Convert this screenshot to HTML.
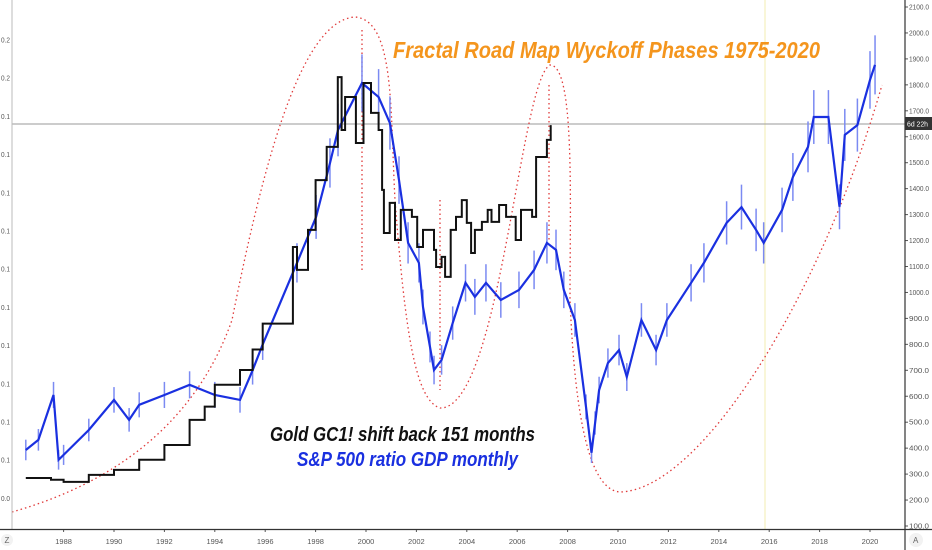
<!DOCTYPE html>
<html><head><meta charset="utf-8"><style>
body{margin:0;background:#fff;}
svg{display:block;font-family:"Liberation Sans",sans-serif;}
</style></head><body>
<svg width="932" height="550" viewBox="0 0 932 550">
<defs><clipPath id="pc"><rect x="12" y="0" width="893" height="529"/></clipPath></defs>
<rect width="932" height="550" fill="#fff"/>
<line x1="765" y1="0" x2="765" y2="529" stroke="#f3eeb0" stroke-width="1"/>
<line x1="12" y1="124" x2="905" y2="124" stroke="#9a9a9a" stroke-width="1"/>
<g id="annot" fill="none" stroke="#e03a3a" stroke-width="1.3" stroke-dasharray="1.5,3">
<path d="M12,512 C90,490 190,440 232,320 C262,170 300,20 355,17 C395,20 390,110 395,200 C405,330 415,400 440,408 C500,410 520,80 550,65 C575,65 570,200 570,300 C575,420 590,490 620,492 C700,490 820,300 882,85"/>
<path d="M362,30 L362,270"/>
<path d="M440,200 L440,390"/>
<path d="M549,85 L549,240"/>
</g>
<g id="series" clip-path="url(#pc)"></g>
<g id="axes"></g>
<text x="393" y="58" fill="#f4951d" font-size="23" font-weight="bold" font-style="italic" textLength="427" lengthAdjust="spacingAndGlyphs">Fractal Road Map Wyckoff Phases  1975-2020</text>
<text x="270" y="441" fill="#111" font-size="20" font-weight="bold" font-style="italic" textLength="265" lengthAdjust="spacingAndGlyphs">Gold GC1! shift back 151 months</text>
<text x="297" y="466" fill="#1a30e0" font-size="20" font-weight="bold" font-style="italic" textLength="221" lengthAdjust="spacingAndGlyphs">S&amp;P 500 ratio GDP monthly</text>
<line x1="905" y1="0" x2="905" y2="550" stroke="#333" stroke-width="1.2"/>
<line x1="12" y1="0" x2="12" y2="530" stroke="#bbb" stroke-width="1"/>
<line x1="0" y1="529.5" x2="932" y2="529.5" stroke="#333" stroke-width="1.2"/>
<rect x="905" y="117" width="27" height="13" fill="#333"/>
<text x="907" y="126.5" fill="#fff" font-size="7.5" textLength="21" lengthAdjust="spacingAndGlyphs">6d 22h</text>
<circle cx="7" cy="540" r="6" fill="#f2f2f2"/>
<text x="4.5" y="543" font-size="8" fill="#666">Z</text>
<circle cx="916" cy="540" r="7" fill="#f2f2f2"/>
<text x="913" y="543" font-size="8" fill="#666">A</text>
</svg>
<script>
const ns="http://www.w3.org/2000/svg";
const yearTicks=[1988,1990,1992,1994,1996,1998,2000,2002,2004,2006,2008,2010,2012,2014,2016,2018,2020];
const priceTicks=[100,200,300,400,500,600,700,800,900,1000,1100,1200,1300,1400,1500,1600,1700,1800,1900,2000,2100];
const leftTickLabels=["0.2","0.2","0.1","0.1","0.1","0.1","0.1","0.1","0.1","0.1","0.1","0.1","0.0"];
const spDates=[1986.5,1987,1987.6,1987.8,1988,1989,1990,1990.6,1991,1992,1993,1994,1995,1995.5,1995.9,1997.26,1998.02,1998.57,1998.89,1999.84,2000.5,2000.95,2001.31,2001.67,2002.1,2002.26,2002.54,2002.7,2003.0,2003.44,2003.95,2004.32,2004.76,2005.35,2006.07,2006.67,2007.18,2007.54,2007.85,2008.29,2008.73,2008.95,2009.09,2009.25,2009.6,2010.04,2010.35,2010.93,2011.51,2011.94,2012.9,2013.41,2014.31,2014.9,2015.48,2015.78,2016.51,2016.94,2017.54,2017.77,2018.35,2018.79,2019.0,2019.5,2020.0,2020.2];
const spValues=[393,432,605,355,374,470,586,509,567,605,644,605,586,700,800,1114,1291,1499,1626,1807,1753,1653,1433,1191,1114,944,790,701,740,882,1037,983,1037,971,1010,1087,1191,1164,1010,894,559,382,497,624,728,778,674,894,778,894,1037,1114,1268,1329,1241,1191,1318,1445,1561,1676,1676,1330,1607,1645,1819,1877];
const goldDates=[1986.5,1987.5,1988,1989,1990,1991,1992,1993,1993.6,1994,1995,1995.5,1995.9,1997.1,1997.26,1997.7,1998.0,1998.44,1998.88,1999.03,1999.17,1999.6,1999.9,2000.2,2000.5,2000.64,2000.71,2000.94,2001.15,2001.38,2001.82,2002.03,2002.26,2002.7,2002.78,2003.0,2003.14,2003.36,2003.57,2003.8,2004.0,2004.17,2004.32,2004.6,2004.83,2004.98,2005.28,2005.56,2005.94,2006.15,2006.59,2006.75,2007.02,2007.18,2007.33];
const goldValues=[285,278,270,297,316,355,412,509,560,644,701,780,880,1175,1087,1241,1433,1561,1830,1626,1753,1576,1807,1692,1626,1395,1229,1345,1202,1318,1291,1175,1241,1164,1098,1137,1060,1241,1291,1356,1268,1152,1241,1272,1318,1272,1337,1291,1202,1318,1291,1522,1522,1588,1645];
const xS=d=>366+(d-2000)*25.2;
const yS=v=>7+(2100-v)*25.95/100;
const ser=document.getElementById('series'),ax=document.getElementById('axes');
function mk(tag,attrs,parent){const e=document.createElementNS(ns,tag);for(const k in attrs)e.setAttribute(k,attrs[k]);parent.appendChild(e);return e;}
spValues.forEach((v,i)=>{
 const x=xS(spDates[i]),r=v*0.05+20;
 const b=mk('line',{x1:x,x2:x,y1:yS(v+r),y2:yS(v-r),stroke:'#7b8af2','stroke-width':1.5},ser);
 
 
});
let p='';spValues.forEach((v,i)=>{p+=(i?'L':'M')+xS(spDates[i]).toFixed(1)+','+yS(v).toFixed(1);});
const sl=mk('path',{d:p,fill:'none',stroke:'#1a30e0','stroke-width':2.2},ser);


let g='';goldValues.forEach((v,i)=>{const x=xS(goldDates[i]).toFixed(1),y=yS(v).toFixed(1);g+=i?('H'+x+'V'+y):('M'+x+','+y);});
const gl=mk('path',{d:g,fill:'none',stroke:'#111','stroke-width':2},ser);


priceTicks.forEach(v=>{
 const y=yS(v);
 const t=mk('line',{x1:905,x2:908,y1:y,y2:y,stroke:'#555'},ax);
 
 
 const tx=mk('text',{x:909,y:y+2.5,'font-size':7,fill:'#555',textLength:20,lengthAdjust:'spacingAndGlyphs'},ax);tx.textContent=v.toFixed(1);
 
 
});
yearTicks.forEach(yr=>{
 const x=xS(yr);
 const t=mk('line',{x1:x,x2:x,y1:529,y2:532,stroke:'#555'},ax);
 
 
 const tx=mk('text',{x:x,y:544,'font-size':7.5,fill:'#555','text-anchor':'middle'},ax);tx.textContent=yr;
 
 
});
leftTickLabels.forEach((l,i)=>{
 const y=40+i*38.2;
 const tx=mk('text',{x:1,y:y+2.5,'font-size':7,fill:'#555',textLength:9,lengthAdjust:'spacingAndGlyphs'},ax);tx.textContent=l;
 
 
});
</script>
</body></html>
